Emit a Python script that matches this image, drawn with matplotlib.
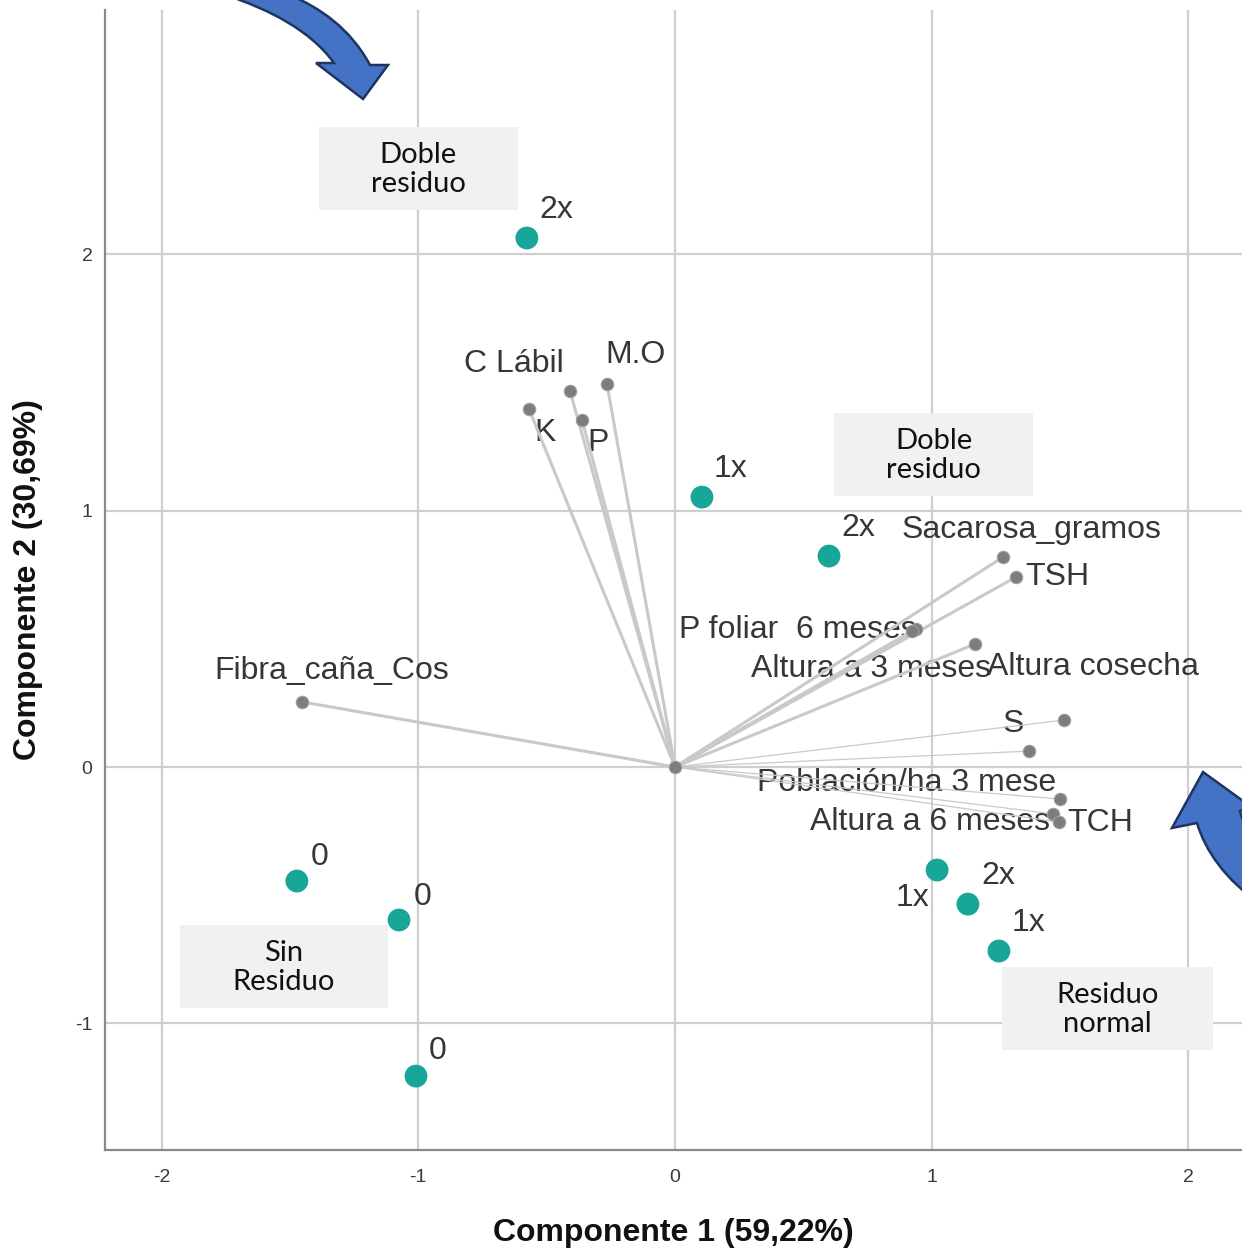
import matplotlib
matplotlib.use("Agg")
import matplotlib.pyplot as plt
from matplotlib.patches import Rectangle, PathPatch
from matplotlib.path import Path
from matplotlib import font_manager

# ---- data ---------------------------------------------------------------
# PCA scores for the treatments (component 1, component 2)
score_labels = ["2x", "1x", "2x", "0", "0", "0", "1x", "2x", "1x"]
score_pc1 = [-0.577, 0.105, 0.600, -1.473, -1.075, -1.009, 1.021, 1.141, 1.262]
score_pc2 = [2.064, 1.053, 0.823, -0.445, -0.597, -1.206, -0.402, -0.535, -0.718]

# variable loadings
var_names = ["C Lábil", "M.O", "K", "P", "Sacarosa_gramos", "TSH",
             "P foliar  6 meses", "Altura a 3 meses", "Altura cosecha", "S", "",
             "Población/ha 3 mese", "Altura a 6 meses", "TCH", "Fibra_caña_Cos"]
var_pc1 = [-0.409, -0.265, -0.569, -0.362, 1.278, 1.328,
           0.939, 0.925, 1.169, 1.515, 1.379,
           1.500, 1.473, 1.496, -1.453]
var_pc2 = [1.467, 1.494, 1.397, 1.354, 0.819, 0.741,
           0.538, 0.530, 0.480, 0.183, 0.062,
           -0.125, -0.183, -0.215, 0.254]

x_ticks = [-2, -1, 0, 1, 2]
y_ticks = [-1, 0, 1, 2]
x_title = "Componente 1 (59,22%)"
y_title = "Componente 2 (30,69%)"

group_boxes = ["Doble\nresiduo", "Doble\nresiduo", "Sin\nResiduo", "Residuo\nnormal"]

# ---- style --------------------------------------------------------------
W, H = 1242, 1251
available = {f.name for f in font_manager.fontManager.ttflist}
narrow = "Liberation Sans Narrow" if "Liberation Sans Narrow" in available else "Liberation Sans"
label_font = "Liberation Sans"
box_font = "Lato"

teal = "#17a697"
grid_c = "#cfcfcf"
line_c = "#c9c9c9"
text_c = "#363636"

# label placement, offsets in pixels from each point (dx, dy; dy downwards)
score_offsets = [(29, -28), (29, -28), (29, -28), (23, -24), (24, -23),
                 (22, -25), (-25, 28), (30, -28), (30, -28)]
var_offsets = {
    "C Lábil": (-56, -27), "M.O": (29, -29), "K": (16, 24), "P": (16, 23),
    "Sacarosa_gramos": (28, -27), "TSH": (41, 0), "P foliar  6 meses": (-118, 1),
    "Altura a 3 meses": (-41, 38), "Altura cosecha": (118, 23),
    "S": (-51, 4), "Población/ha 3 mese": (-153, -16), "Altura a 6 meses": (-123, 8),
    "TCH": (41, 1), "Fibra_caña_Cos": (30, -31),
}
thin_lines = {"S", "", "Población/ha 3 mese", "Altura a 6 meses", "TCH"}

fig = plt.figure(figsize=(W / 100, H / 100), dpi=100)

# main axes: spans pixels x 105..1242, y 10..1150
px_per_x, px_per_y = 256.7, 256.3
x0_px, y0_px = 675, 767
ax_left, ax_right, ax_top, ax_bottom = 105, 1242, 10, 1150
ax_w, ax_h = ax_right - ax_left, ax_bottom - ax_top
ax = fig.add_axes([ax_left / W, 1 - ax_bottom / H, ax_w / W, ax_h / H])
ax.set_xlim((ax_left - x0_px) / px_per_x, (ax_right - x0_px) / px_per_x)
ax.set_ylim((y0_px - ax_bottom) / px_per_y, (y0_px - ax_top) / px_per_y)

ax.set_xticks(x_ticks)
ax.set_yticks(y_ticks)
ax.set_xticklabels([str(t) for t in x_ticks], fontfamily=narrow, fontsize=14, color="#3a3a3a")
ax.set_yticklabels([str(t) for t in y_ticks], fontfamily=narrow, fontsize=14, color="#3a3a3a")
ax.tick_params(axis="x", length=0, pad=14)
ax.tick_params(axis="y", length=0, pad=9)
ax.grid(True, color=grid_c, lw=1.6, zorder=0)
ax.set_axisbelow(True)
for s in ["top", "right"]:
    ax.spines[s].set_visible(False)
for s in ["left", "bottom"]:
    ax.spines[s].set_color("#8a8a8a")
    ax.spines[s].set_linewidth(1.6)

ax.set_xlabel(x_title, fontfamily=narrow, fontweight="bold", fontsize=23, color="#111111")
ax.set_ylabel(y_title, fontfamily=narrow, fontweight="bold", fontsize=23, color="#111111")
ax.xaxis.set_label_coords(0.5, (ax_bottom - 1233) / ax_h)
ax.xaxis.label.set_va("center")
ax.yaxis.set_label_coords((28 - ax_left) / ax_w, 0.5)
ax.yaxis.label.set_va("center")
ax.yaxis.label.set_ha("center")

# loading vectors
for name, vx, vy in zip(var_names, var_pc1, var_pc2):
    lw = 0.9 if name in thin_lines else 2.2
    ax.plot([0, vx], [0, vy], color=line_c, lw=lw, zorder=3, solid_capstyle="round")
ax.scatter(var_pc1, var_pc2, s=80, color="#7d7d7d", edgecolor="#a0a0a0", lw=0.8, zorder=4)
ax.scatter([0], [0], s=80, color="#7d7d7d", edgecolor="#a0a0a0", lw=0.8, zorder=4)

for name, vx, vy in zip(var_names, var_pc1, var_pc2):
    if not name:
        continue
    dx, dy = var_offsets[name]
    ax.annotate(name, (vx, vy), xytext=(dx * 0.72, -dy * 0.72), textcoords="offset points",
                ha="center", va="center", fontsize=23, fontfamily=label_font,
                color=text_c, zorder=2)

# treatment scores
ax.scatter(score_pc1, score_pc2, s=270, color=teal, edgecolor="none", zorder=5)
for lab, sx, sy, (dx, dy) in zip(score_labels, score_pc1, score_pc2, score_offsets):
    ax.annotate(lab, (sx, sy), xytext=(dx * 0.72, -dy * 0.72), textcoords="offset points",
                ha="center", va="center", fontsize=23, fontfamily=label_font,
                color=text_c, zorder=6)

# overlay in pixel coordinates for group boxes and arrows
ov = fig.add_axes([0, 0, 1, 1], zorder=10)
ov.set_xlim(0, W)
ov.set_ylim(H, 0)
ov.axis("off")
ov.patch.set_visible(False)

box_rects = [(319, 127, 199, 83), (834, 413, 199, 83), (180, 925, 208, 83), (1002, 967, 211, 83)]
for txt, (bx, by, bw, bh) in zip(group_boxes, box_rects):
    ov.add_patch(Rectangle((bx, by), bw, bh, facecolor="#f1f1f1", edgecolor="none"))
    ov.text(bx + bw / 2, by + bh / 2 + 1, txt, ha="center", va="center", fontsize=21,
            fontfamily=box_font, color="#111111", linespacing=1.12)

arrow_face = "#4472c4"
arrow_edge = "#1f3460"

# upper-left curved arrow pointing down-right
a1 = [
    (Path.MOVETO, (226, -5)),
    (Path.CURVE4, (270, 10)), (Path.CURVE4, (310, 30)), (Path.CURVE4, (334, 63)),
    (Path.LINETO, (316, 63)),
    (Path.LINETO, (363, 99)),
    (Path.LINETO, (388, 65)),
    (Path.LINETO, (370, 65)),
    (Path.CURVE4, (350, 28)), (Path.CURVE4, (320, 8)), (Path.CURVE4, (290, -5)),
    (Path.CLOSEPOLY, (226, -5)),
]
codes, verts = zip(*a1)
ov.add_patch(PathPatch(Path(verts, codes), facecolor=arrow_face, edgecolor=arrow_edge, lw=1.8))

# right curved arrow pointing up-left
a2 = [
    (Path.MOVETO, (1262, 905)),
    (Path.CURVE4, (1225, 880)), (Path.CURVE4, (1205, 850)), (Path.CURVE4, (1197, 823)),
    (Path.LINETO, (1172, 828)),
    (Path.LINETO, (1203, 772)),
    (Path.LINETO, (1250, 806)),
    (Path.LINETO, (1240, 811)),
    (Path.CURVE4, (1245, 830)), (Path.CURVE4, (1255, 845)), (Path.CURVE4, (1275, 860)),
    (Path.CLOSEPOLY, (1262, 905)),
]
codes, verts = zip(*a2)
ov.add_patch(PathPatch(Path(verts, codes), facecolor=arrow_face, edgecolor=arrow_edge, lw=1.8))

fig.savefig("out.png", dpi=100, facecolor="white")
